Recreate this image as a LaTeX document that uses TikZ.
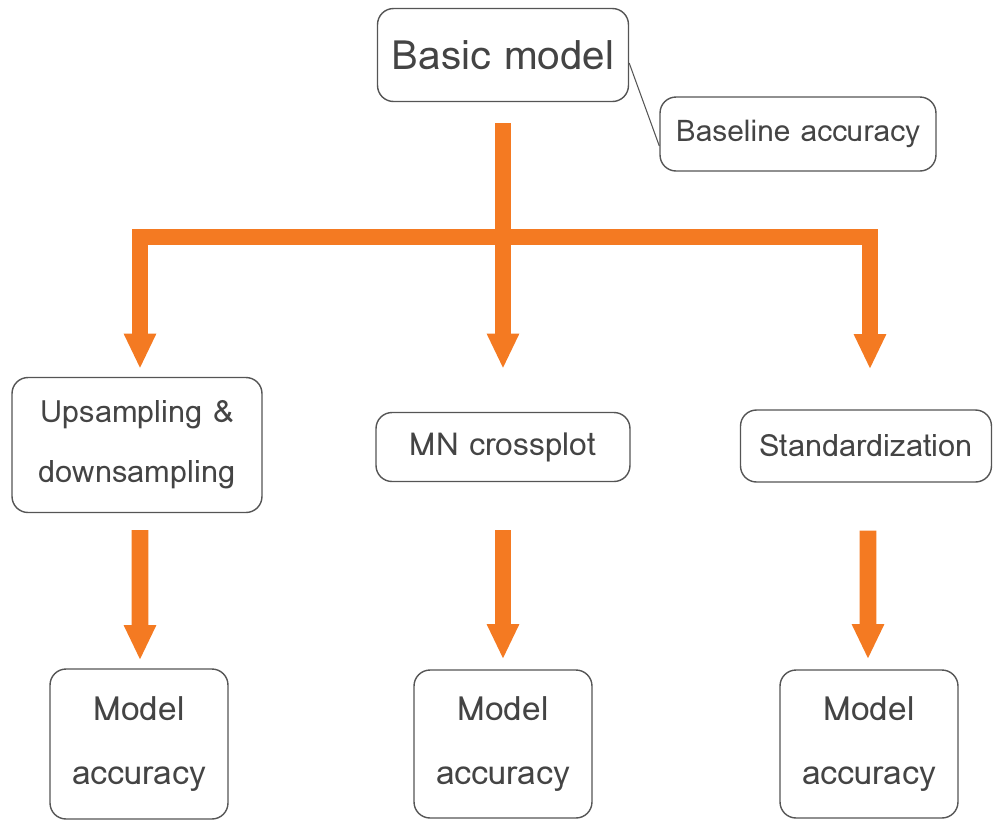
\documentclass[tikz,border=0pt]{standalone}
\usepackage{fontspec}
\setmainfont{Loma}
\usepackage{tikz}
\usetikzlibrary{calc}
\usetikzlibrary{arrows.meta}
\usetikzlibrary{positioning}
\definecolor{FlowOrange}{RGB}{244,122,34}
\definecolor{BoxGray}{RGB}{85,85,85}
\definecolor{TextGray}{RGB}{68,68,68}

\begin{document}
\begin{tikzpicture}[x=0.02cm, y=-0.02cm,
 box/.style = {draw=BoxGray, line width=0.8pt, rectangle, rounded corners=0.32cm,
               inner sep=0pt, align=center, text=TextGray},
 flow/.style = {draw=FlowOrange, line width=9.5pt},
 flowarrow/.style = {flow, -{Triangle[width=17pt, length=20pt]}},
 callout/.style = {draw=BoxGray, line width=0.6pt},
                        ]
    \useasboundingbox (0,0) rectangle (995,823);

    % top of the tree
    \node [box, minimum width=5.02cm, minimum height=1.86cm, font=\fontsize{23}{27}\selectfont] at (503,55) (basicModel) {Basic model};
    \node [box, minimum width=5.52cm, minimum height=1.48cm, font=\fontsize{17}{20}\selectfont] at (798,134) (baseline) {Baseline accuracy};
    \draw [callout] ([yshift=-0.16cm]basicModel.east) -- ([yshift=-0.24cm]baseline.west);

    % the three preprocessing variants
    \node [box, minimum width=5.0cm, minimum height=2.7cm, font=\fontsize{17.5}{34}\selectfont] at (137,445) (resample) {Upsampling \&\\downsampling};
    \node [box, minimum width=5.08cm, minimum height=1.38cm, font=\fontsize{18}{21}\selectfont] at (503,447) (crossplot) {MN crossplot};
    \node [box, minimum width=5.02cm, minimum height=1.44cm, font=\fontsize{17.5}{20}\selectfont] at (866,446) (standard) {Standardization};

    % results
    \node [box, minimum width=3.56cm, minimum height=3.0cm, font=\fontsize{19}{36}\selectfont] at (139,744) (accA) {Model\\accuracy};
    \node [box, minimum width=3.56cm, minimum height=2.96cm, font=\fontsize{19}{36}\selectfont] at (503,744) (accB) {Model\\accuracy};
    \node [box, minimum width=3.56cm, minimum height=2.96cm, font=\fontsize{19}{36}\selectfont] at (869,744) (accC) {Model\\accuracy};

    \coordinate (split) at (503,237);

    \draw [flow, shorten <=0.42cm] (basicModel.south) -- (split);
    \draw [flowarrow, shorten >=0.16cm] (split) -| ([xshift=0.06cm]resample.north);
    \draw [flowarrow, shorten >=0.86cm] (split) -- (crossplot.north);
    \draw [flowarrow, shorten >=0.8cm] (split) -| ([xshift=0.08cm]standard.north);

    \draw [flowarrow, shorten <=0.34cm, shorten >=0.16cm] ([xshift=0.06cm]resample.south) -- ([xshift=0.02cm]accA.north);
    \draw [flowarrow, shorten <=0.96cm, shorten >=0.2cm] (crossplot.south) -- (accB.north);
    \draw [flowarrow, shorten <=0.96cm, shorten >=0.2cm] ([xshift=0.04cm]standard.south) -- ([xshift=-0.02cm]accC.north);

\end{tikzpicture}
\end{document}
